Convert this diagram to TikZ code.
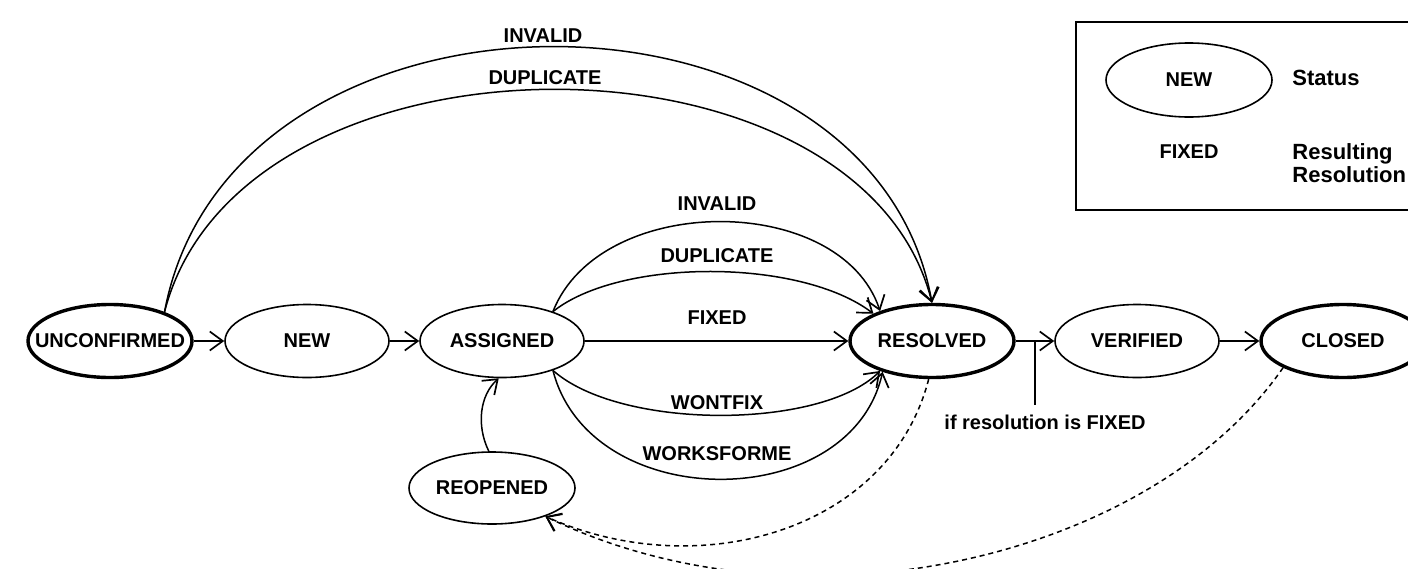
\documentclass[tikz,border=0pt]{standalone}
\usepackage{fontspec}
\setmainfont{Liberation Sans}
\usetikzlibrary{arrows.meta,shapes.geometric,calc}
\newcommand\zc[1]{\makebox[0pt]{#1}}
\begin{document}
\begin{tikzpicture}[x=0.5pt,y=-0.5pt,
  st/.style={ellipse,draw,line width=0.8pt,minimum width=82pt,minimum height=36.5pt,inner sep=0pt,font=\bfseries\fontsize{10}{12}\selectfont},
  fin/.style={st,line width=1.7pt},
  lbl/.style={font=\bfseries\fontsize{10}{11.5}\selectfont,inner sep=1pt},
  big/.style={font=\bfseries\fontsize{11}{11.5}\selectfont,inner sep=1pt},
  arr/.style={line width=0.75pt,-{Straight Barb[length=6.5pt,width=9.5pt,line width=0.85pt]}},
  dsh/.style={arr,dash pattern=on 2.5pt off 2pt}]
\useasboundingbox (0,0) rectangle (1408,568);
\clip (0,0) rectangle (1408,568);
% states
\node[fin] (unc) at (110,341) {\zc{UNCONFIRMED}};
\node[st]  (new) at (307,341) {\zc{NEW}};
\node[st]  (asg) at (502,341) {\zc{ASSIGNED}};
\node[fin] (res) at (932,341) {\zc{RESOLVED}};
\node[st]  (ver) at (1137,341) {\zc{VERIFIED}};
\node[fin] (cls) at (1343,341) {\zc{CLOSED}};
\node[st,minimum width=83pt,minimum height=36pt] (rop) at (492,488) {\zc{REOPENED}};
% straight transitions
\draw[arr] (unc) -- (new);
\draw[arr] (new) -- (asg);
\draw[arr] (asg) -- (res);
\draw[arr] (res) -- (ver);
\draw[arr] (ver) -- (cls);
\coordinate (fx) at ($(res.east)!0.5!(ver.west)$);
\coordinate (fxe) at ($(fx)+(0,64)$);
\draw[line width=0.75pt] (fx) -- (fxe);
\node[lbl] (fxl) at (1045,422) {if resolution is FIXED};
% outer arcs
\draw[arr] (unc.28) .. controls (230,-40) and (870,-40) .. (res.90);
\draw[arr] (unc.28) .. controls (240,17) and (860,17) .. (res.90);
\node[lbl] (l1) at (543,36) {INVALID};
\node[lbl] (l2) at (545,78) {DUPLICATE};
% inner arcs
\draw[arr] (asg.30) .. controls (600,192) and (840,192) .. (res.150);
\draw[arr] (asg.30) .. controls (620,258) and (800,258) .. (res.155);
\node[lbl] (l3) at (717,204) {INVALID};
\node[lbl] (l4) at (717,256) {DUPLICATE};
\node[lbl] (l5) at (717,318) {FIXED};
\draw[arr] (asg.-30) .. controls (620,430) and (820,430) .. (res.-150);
\draw[arr] (asg.-30) .. controls (590,515) and (850,515) .. (res.-148);
\node[lbl] (l6) at (717,403) {WONTFIX};
\node[lbl] (l7) at (717,454) {WORKSFORME};
% reopen
\draw[arr] (rop.95) .. controls (476,425) and (480,395) .. (asg.-95);
\draw[dsh] (res.-95) .. controls (890,530) and (700,585) .. (rop.-28);
\draw[dsh] (cls.-156) .. controls (1150,560) and (800,640) .. (rop.-28);
% legend
\draw[line width=0.8pt] (1076,22) rectangle (1420,210);
\node[st,minimum width=83pt,minimum height=37pt] (lnew) at (1189,80) {\zc{NEW}};
\node[lbl] (lfix) at (1189,152) {FIXED};
\node[big,anchor=west] (lsta) at (1290,78) {Status};
\node[big,anchor=west,align=left] (lres) at (1290,163) {Resulting\\Resolution};
\end{tikzpicture}
\end{document}
